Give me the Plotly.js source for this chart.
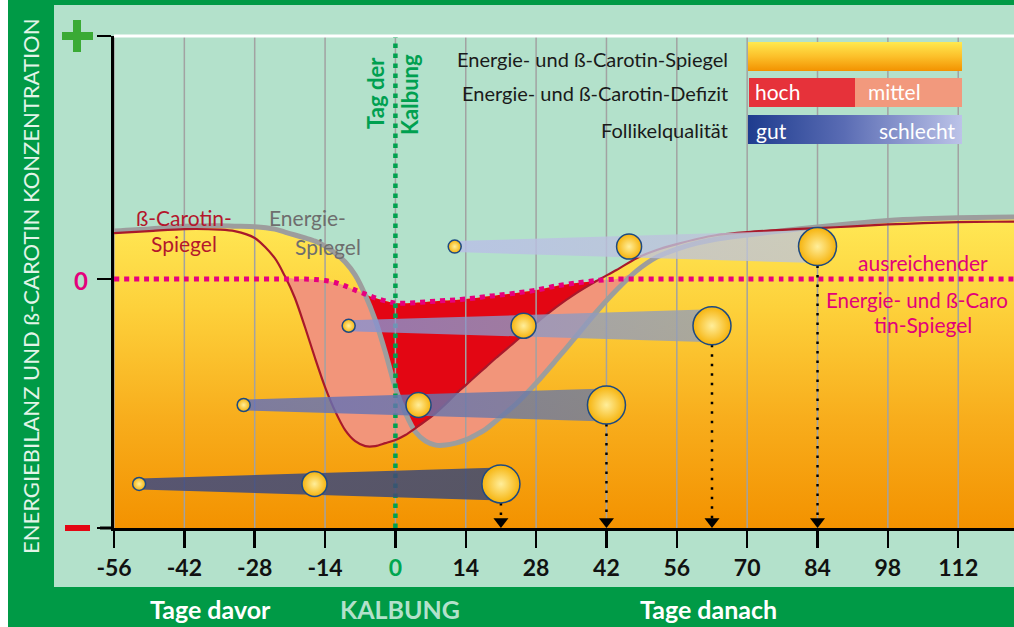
<!DOCTYPE html>
<html><head><meta charset="utf-8">
<script src="https://cdn.plot.ly/plotly-3.0.1.min.js"></script>
<style>html,body{margin:0;padding:0;background:#fff;}#chart{width:1014px;height:627px;}</style>
</head><body><div id="chart"></div>
<script>
// ---------------- DATA ----------------
const days = [-56,-49,-42,-35,-32,-28,-24,-22,-20,-18,-16,-14,-12,-10,-8,-6,-4,-2,0,2,4,6,8,10,12,14,16,18,20,24,28,32,36,40,44,48,52,56,60,64,70,77,84,91,98,105,112,119,124];
const energy = [0.195,0.203,0.215,0.217,0.215,0.213,0.203,0.191,0.179,0.167,0.154,0.134,0.106,0.069,0.016,-0.065,-0.167,-0.297,-0.443,-0.545,-0.622,-0.659,-0.675,-0.675,-0.667,-0.654,-0.634,-0.610,-0.577,-0.508,-0.423,-0.329,-0.232,-0.134,-0.045,0.033,0.089,0.122,0.146,0.163,0.179,0.196,0.212,0.226,0.238,0.245,0.249,0.251,0.252];
const carotene = [0.187,0.195,0.203,0.201,0.195,0.167,0.085,0.012,-0.077,-0.195,-0.321,-0.439,-0.537,-0.614,-0.659,-0.679,-0.679,-0.667,-0.654,-0.634,-0.606,-0.577,-0.545,-0.508,-0.467,-0.431,-0.394,-0.358,-0.321,-0.252,-0.179,-0.114,-0.057,-0.008,0.037,0.085,0.118,0.142,0.163,0.179,0.191,0.200,0.207,0.214,0.222,0.227,0.231,0.233,0.234];
const sufficientLevel = [0,0,0,0,0,0,0,0,0,0,-0.002,-0.006,-0.014,-0.028,-0.045,-0.061,-0.077,-0.089,-0.098,-0.098,-0.096,-0.093,-0.090,-0.087,-0.085,-0.081,-0.077,-0.071,-0.067,-0.057,-0.045,-0.028,-0.016,-0.006,0,0,0,0,0,0,0,0,0,0,0,0,0,0,0];
const tickDays = [-56,-42,-28,-14,0,14,28,42,56,70,84,98,112];
const tickLabels = ['-56','-42','-28','-14','0','14','28','42','56','70','84','98','112'];
const follicleStart = [11.8,-9.3,-30.2,-51];
const follicleMid = [46.5,25.5,4.6,-16.1];
const follicleEnd = [84,63,42,21];
const follicleLevel = [0.132,-0.190,-0.512,-0.833];

// ---------------- LAYOUT GEOMETRY ----------------
const W=1014,H=627,ML=114,MR=0,MT=36,MB=99;
const PW=W-ML-MR, PH=H-MT-MB;
const XMIN=-56, XMAX=123.1, YMIN=-1.012, YMAX=0.988;
const DY = (YMAX-YMIN)/PH;
const P = px => (px-ML)/PW;
const Q = py => (H-MB-py)/PH;

const loLine = days.map((_,i)=>Math.min(energy[i],carotene[i]));
const hiLine = days.map((_,i)=>Math.max(energy[i],carotene[i]));
const fillTop = days.map((_,i)=>Math.max(hiLine[i],sufficientLevel[i]));
const salTop = days.map((_,i)=>Math.max(loLine[i],Math.min(hiLine[i],sufficientLevel[i])));
const baseLine = days.map(()=>YMIN);

const noLine = {width:0, shape:'spline', smoothing:0.8};
const traces = [];
const T = o => traces.push(Object.assign({type:'scatter', mode:'lines', hoverinfo:'skip', showlegend:false}, o));

T({x:days, y:baseLine, line:{width:0}});
T({x:days, y:fillTop, line:noLine, fill:'tonexty',
   fillgradient:{type:'vertical', start:YMIN, stop:0.25,
     colorscale:[[0,'#f39200'],[0.35,'#f8ad1c'],[0.7,'#fdd03a'],[1,'#ffe855']]}});
T({x:days, y:loLine, line:noLine});
T({x:days, y:salTop, line:noLine, fill:'tonexty', fillcolor:'#f2957a'});
T({x:days, y:hiLine, line:noLine});
T({x:days, y:fillTop, line:noLine, fill:'tonexty', fillcolor:'#e30613'});

const gx=[], gy=[];
tickDays.forEach(t=>{gx.push(t,t,null); gy.push(YMIN,YMAX,null);});
T({x:gx, y:gy, line:{color:'#a2a2a2', width:1.5}});

T({x:days, y:energy, line:{color:'#9d9d9d', width:5, shape:'spline', smoothing:0.8}});
T({x:days, y:carotene, line:{color:'#a8192b', width:2.2, shape:'spline', smoothing:0.8}});
T({x:days, y:sufficientLevel, line:{color:'#e6007e', width:5, dash:'5px,5px', shape:'spline', smoothing:0.8}});
T({x:[0,0], y:[YMIN,YMAX], line:{color:'#00a04f', width:4.5, dash:'4.5px,5.5px'}});

const h0 = 5.5*DY, h1 = 16.5*DY;
const bandColors = [
  ['rgba(185,190,232,0.8)','rgba(192,198,212,0.8)'],
  ['rgba(135,145,210,0.8)','rgba(150,160,180,0.8)'],
  ['rgba(95,110,190,0.8)','rgba(112,125,158,0.82)'],
  ['rgba(62,74,130,0.86)','rgba(66,76,112,0.88)']
];
follicleLevel.forEach((lv,i)=>{
  const xs=follicleStart[i], xe=follicleEnd[i];
  T({x:[xs,xe,xe,xs,xs], y:[lv+h0,lv+h1,lv-h1,lv-h0,lv+h0], line:{width:0}, fill:'toself',
     fillgradient:{type:'horizontal', start:xs, stop:xe, colorscale:[[0,bandColors[i][0]],[1,bandColors[i][1]]]}});
});
const ARROW_Y = YMIN + 6.5*DY;
const ax=[], ay=[];
follicleEnd.forEach((e,i)=>{ax.push(e,e,null); ay.push(follicleLevel[i],ARROW_Y,null);});
T({x:ax, y:ay, line:{color:'#000', width:2.5, dash:'2.5px,7px'}});
T({x:follicleEnd, y:follicleEnd.map(()=>ARROW_Y), mode:'markers', marker:{symbol:'triangle-down', size:13, color:'#000', opacity:1}});
const fx = [...follicleStart, ...follicleMid, ...follicleEnd];
const fy = [...follicleLevel, ...follicleLevel, ...follicleLevel];
const fs = [...follicleLevel.map(()=>13), ...follicleLevel.map(()=>25), ...follicleLevel.map(()=>38)];
T({x:fx, y:fy, mode:'markers', marker:{size:fs, opacity:1, color:'#f6b30c', gradient:{type:'radial', color:'#ffee9a'}, line:{color:'#1d4a82', width:1.5}}});

const F='Lato, "Open Sans", sans-serif';
const anns=[];
const A=(text,px,py,o={})=>anns.push(Object.assign({text, xref:'paper', yref:'paper', x:P(px), y:Q(py), showarrow:false,
  xanchor:'center', yanchor:'middle', font:{family:F, size:21, color:'#1a1a1a'}}, o));

A('ENERGIEBILANZ UND ß-CAROTIN KONZENTRATION', 30, 287, {textangle:-90, font:{family:F, size:22, color:'#e2f4e8'}});
A('<b>0</b>', 81, 280, {font:{family:F, size:24, color:'#e4007c'}});
A('<b>Tag der</b>', 375, 93, {textangle:-90, font:{family:F, size:22, color:'#00a050'}});
A('<b>Kalbung</b>', 410, 95, {textangle:-90, font:{family:F, size:22, color:'#00a050'}});
A('ß-Carotin-', 184, 217, {font:{family:F, size:21, color:'#b4172c'}});
A('Spiegel', 184, 243, {font:{family:F, size:21, color:'#b4172c'}});
A('Energie-', 307, 218, {font:{family:F, size:21, color:'#6e6e6e'}});
A('Spiegel', 328, 246, {font:{family:F, size:21, color:'#6e6e6e'}});
A('ausreichender', 923, 262, {font:{family:F, size:21, color:'#e2007a'}});
A('Energie- und ß-Caro', 824, 300, {xanchor:'left', font:{family:F, size:20.5, color:'#e2007a'}});
A('tin-Spiegel', 923, 324, {font:{family:F, size:21, color:'#e2007a'}});
A('Energie- und ß-Carotin-Spiegel', 730, 59, {xanchor:'right', font:{family:F, size:20, color:'#1a1a1a'}});
A('Energie- und ß-Carotin-Defizit', 730, 93, {xanchor:'right', font:{family:F, size:20, color:'#1a1a1a'}});
A('Follikelqualität', 730, 130, {xanchor:'right', font:{family:F, size:20, color:'#1a1a1a'}});
A('hoch', 753, 92, {xanchor:'left', font:{family:F, size:21, color:'#fff'}});
A('mittel', 866, 92, {xanchor:'left', font:{family:F, size:21, color:'#fff'}});
A('gut', 754, 130, {xanchor:'left', font:{family:F, size:21, color:'#fff'}});
A('schlecht', 957, 130, {xanchor:'right', font:{family:F, size:21, color:'#fff'}});
A('<b>Tage davor</b>', 210, 609, {font:{family:F, size:25, color:'#fff'}});
A('<b>KALBUNG</b>', 400, 609, {font:{family:F, size:25, color:'#b3e1cb'}});
A('<b>Tage danach</b>', 708, 609, {font:{family:F, size:25, color:'#fff'}});

const shapes=[];
const R=(x0,y0,x1,y1,color,layer='below')=>shapes.push({type:'rect', xref:'paper', yref:'paper', x0:P(x0), x1:P(x1), y0:Q(y1), y1:Q(y0), fillcolor:color, line:{width:0}, layer});
R(0,0,8,627,'#ffffff');
R(8,0,54,627,'#009a46');
R(8,0,1014,5,'#009a46');
R(8,587,1014,627,'#009a46');
R(62,32,93,40,'#3aaa35','above');
R(73,20,81,52,'#3aaa35','above');
R(65,525,90,531,'#e30613','above');
R(749,78,855,107,'#e6323a','above');
R(855,78,962,107,'#f2997d','above');
shapes.push({type:'line', xref:'paper', yref:'paper', x0:0, x1:1, y0:1, y1:1, line:{color:'#ffffff', width:3}, layer:'above'});
shapes.push({type:'line', xref:'paper', yref:'paper', x0:P(100), x1:P(114), y0:0, y1:0, line:{color:'#000', width:3}, layer:'above'});

const svgGrad=(dir,stops)=>{
  const [x2,y2]=dir==='v'?[0,1]:[1,0];
  const s=stops.map(([o,c])=>`<stop offset='${o}' stop-color='${c}'/>`).join('');
  const svg=`<svg xmlns='http://www.w3.org/2000/svg' width='100' height='100' viewBox='0 0 100 100' preserveAspectRatio='none'><defs><linearGradient id='g' x1='0' y1='0' x2='${x2}' y2='${y2}'>${s}</linearGradient></defs><rect width='100' height='100' fill='url(#g)'/></svg>`;
  return 'data:image/svg+xml;charset=utf-8,'+encodeURIComponent(svg);
};
const img=(src,x0,y0,x1,y1)=>({source:src, xref:'paper', yref:'paper', x:P(x0), y:Q(y0), sizex:(x1-x0)/PW, sizey:(y1-y0)/PH, xanchor:'left', yanchor:'top', sizing:'stretch', layer:'above'});
const images=[
  img(svgGrad('v',[[0,'#ffe94f'],[0.5,'#fcc02a'],[1,'#f39200']]),748,42,962,71),
  img(svgGrad('h',[[0,'#1e3c8e'],[0.45,'#5a6cb4'],[1,'#bcc3e8']]),748,115,962,144)
];

const layout = {
  width:W, height:H, margin:{l:ML, r:MR, t:MT, b:MB, pad:0},
  paper_bgcolor:'#b3e1cb', plot_bgcolor:'#b3e1cb',
  showlegend:false, hovermode:false,
  xaxis:{range:[XMIN,XMAX], tickvals:tickDays,
    ticktext:tickLabels.map(t=>t==='0'?'<span style="color:#00a650">0</span>':t),
    ticks:'outside', ticklen:17, tickwidth:2.5, tickcolor:'#000', ticklabelstandoff:0,
    tickfont:{family:F, size:23, color:'#111', weight:'bold'},
    showline:true, linecolor:'#000', linewidth:3, showgrid:false, zeroline:false, fixedrange:true},
  yaxis:{range:[YMIN,YMAX], tickvals:[YMIN+1e-6,0,YMAX-1e-6], ticks:'outside', ticklen:14, tickwidth:2.5, tickcolor:'#000',
    showticklabels:false, showline:true, linecolor:'#000', linewidth:3, showgrid:false, zeroline:false, fixedrange:true},
  annotations:anns, shapes, images
};
Plotly.newPlot('chart', traces, layout, {staticPlot:true, displayModeBar:false});
</script></body></html>
